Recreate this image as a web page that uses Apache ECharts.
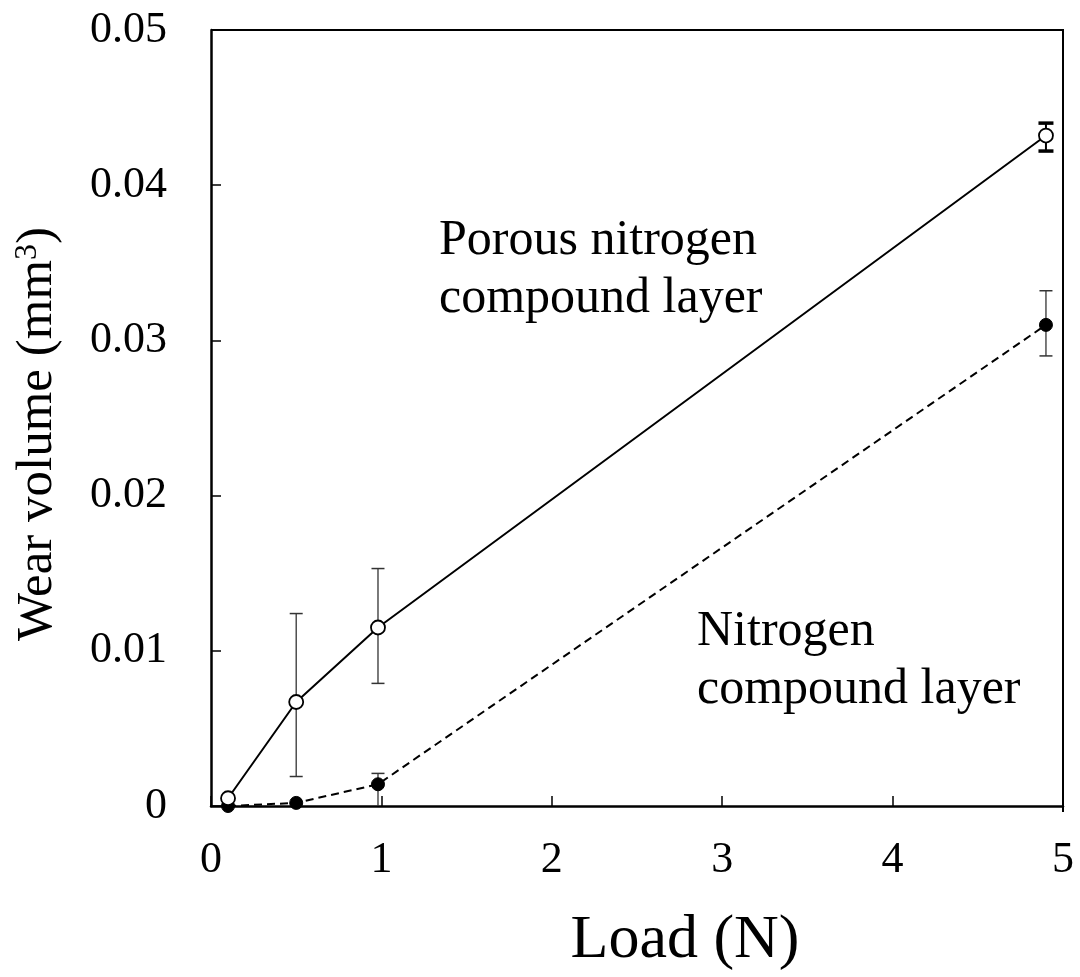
<!DOCTYPE html>
<html>
<head>
<meta charset="utf-8">
<script src="https://cdn.jsdelivr.net/npm/echarts@6/dist/echarts.min.js"></script>
<style>
html,body{margin:0;padding:0;background:#fff;}
#chart{width:1080px;height:977px;}
</style>
</head>
<body>
<div id="chart"></div>
<script>
// ---- data ----
const xTicks = [0, 1, 2, 3, 4, 5];
const yTicks = [0, 0.01, 0.02, 0.03, 0.04, 0.05];

const loadPorous = [0.1, 0.5, 0.98, 4.9];
const wearPorous = [0.0005, 0.0067, 0.0115, 0.0432];
const porousErrLow = [0.0005, 0.0019, 0.0079, 0.0422];
const porousErrHigh = [0.0005, 0.0124, 0.0153, 0.0440];

const loadNitrogen = [0.1, 0.5, 0.98, 4.9];
const wearNitrogen = [0.0, 0.0002, 0.0014, 0.0310];
const nitrogenErrLow = [0.0, 0.0002, 0.0, 0.0290];
const nitrogenErrHigh = [0.0, 0.0002, 0.0021, 0.0332];

const labelPorous = 'Porous nitrogen\ncompound layer';
const labelNitrogen = 'Nitrogen\ncompound layer';
const xName = 'Load (N)';
const yName = 'Wear volume (mm{sup|3})';

// ---- chart ----
const FONT = "'Liberation Serif', 'Times New Roman', 'DejaVu Serif', serif";
const chart = echarts.init(document.getElementById('chart'));

function pairs(xs, ys) { return xs.map((x, i) => [x, ys[i]]); }
function errData(xs, lo, hi) { return xs.map((x, i) => [x, lo[i], hi[i]]); }

function errRender(params, api) {
  const x = api.value(0), lo = api.value(1), hi = api.value(2);
  if (hi - lo <= 0) return null;
  const pLo = api.coord([x, lo]);
  const pHi = api.coord([x, hi]);
  const h = Math.abs(pLo[1] - pHi[1]);
  const bold = params.seriesIndex === 0 && h < 40;
  const capW = bold ? 7.5 : 6.5;
  const stroke = bold ? '#000' : '#333';
  const capStyle = { stroke: stroke, lineWidth: bold ? 3.5 : 1.5 };
  const children = [
    { type: 'line', shape: { x1: pLo[0], y1: pLo[1], x2: pHi[0], y2: pHi[1] }, style: { stroke: stroke, lineWidth: bold ? 2 : 1.3 } },
    { type: 'line', shape: { x1: pHi[0] - capW, y1: pHi[1], x2: pHi[0] + capW, y2: pHi[1] }, style: capStyle }
  ];
  if (lo > 0) {
    children.push({ type: 'line', shape: { x1: pLo[0] - capW, y1: pLo[1], x2: pLo[0] + capW, y2: pLo[1] }, style: capStyle });
  }
  return { type: 'group', children: children };
}

const option = {
  animation: false,
  backgroundColor: '#fff',
  grid: { left: 211, top: 30, right: 17, bottom: 165, show: false },
  xAxis: {
    type: 'value', min: 0, max: 5, interval: 1,
    name: xName, nameLocation: 'middle', nameGap: 104,
    nameTextStyle: { fontFamily: FONT, fontSize: 62, color: '#000', padding: [0, 0, 0, 96] },
    axisLine: { show: true, onZero: false, lineStyle: { color: '#000', width: 2.5 } },
    axisTick: { show: true, inside: true, length: 10, lineStyle: { color: '#000', width: 1.5 } },
    axisLabel: { fontFamily: FONT, fontSize: 44, color: '#000', margin: 32,
      formatter: v => xTicks.includes(v) ? String(v) : '' },
    splitLine: { show: false }
  },
  yAxis: {
    type: 'value', min: 0, max: 0.05, interval: 0.01,
    name: yName, nameLocation: 'middle', nameGap: 148, nameRotate: 90,
    nameTextStyle: { fontFamily: FONT, fontSize: 51, color: '#000', padding: [0, 32, 0, 0],
      rich: { sup: { fontFamily: FONT, fontSize: 32, color: '#000', verticalAlign: 'top', padding: [0, 0, 18, 0] } } },
    axisLine: { show: true, onZero: false, lineStyle: { color: '#000', width: 2.5 } },
    axisTick: { show: true, inside: true, length: 10, lineStyle: { color: '#000', width: 1.5 } },
    axisLabel: { fontFamily: FONT, fontSize: 44, color: '#000', margin: 44,
      formatter: v => {
        const t = yTicks.find(k => Math.abs(k - v) < 1e-9);
        if (t === undefined) return '';
        return t === 0 ? '0' : t.toFixed(2);
      } },
    splitLine: { show: false }
  },
  graphic: [
    // frame top and right edges
    { type: 'polyline', shape: { points: [[211, 30], [1063, 30], [1063, 812]] }, style: { fill: null, stroke: '#000', lineWidth: 2 }, z: 1, silent: true },
    { type: 'text', left: 439, top: 212, style: { text: labelPorous, fontFamily: FONT, fontSize: 50, lineHeight: 58, fill: '#000', align: 'left' }, z: 10 },
    { type: 'text', left: 697, top: 603, style: { text: labelNitrogen, fontFamily: FONT, fontSize: 50, lineHeight: 58, fill: '#000', align: 'left' }, z: 10 }
  ],
  series: [
    {
      name: 'Porous err', type: 'custom', renderItem: errRender, z: 2,
      data: errData(loadPorous, porousErrLow, porousErrHigh),
      encode: { x: 0, y: [1, 2] }, silent: true
    },
    {
      name: 'Nitrogen err', type: 'custom', renderItem: errRender, z: 2,
      data: errData(loadNitrogen, nitrogenErrLow, nitrogenErrHigh),
      encode: { x: 0, y: [1, 2] }, silent: true
    },
    {
      name: 'Nitrogen compound layer', type: 'line', z: 3,
      data: pairs(loadNitrogen, wearNitrogen),
      symbol: 'circle', symbolSize: 13,
      lineStyle: { color: '#000', width: 2, type: [8, 5] },
      itemStyle: { color: '#000', borderColor: '#000', borderWidth: 1 }
    },
    {
      name: 'Porous nitrogen compound layer', type: 'line', z: 4,
      data: pairs(loadPorous, wearPorous),
      symbol: 'circle', symbolSize: 14,
      lineStyle: { color: '#000', width: 2 },
      itemStyle: { color: '#fff', borderColor: '#000', borderWidth: 1.8 }
    }
  ]
};
chart.setOption(option);
</script>
</body>
</html>
